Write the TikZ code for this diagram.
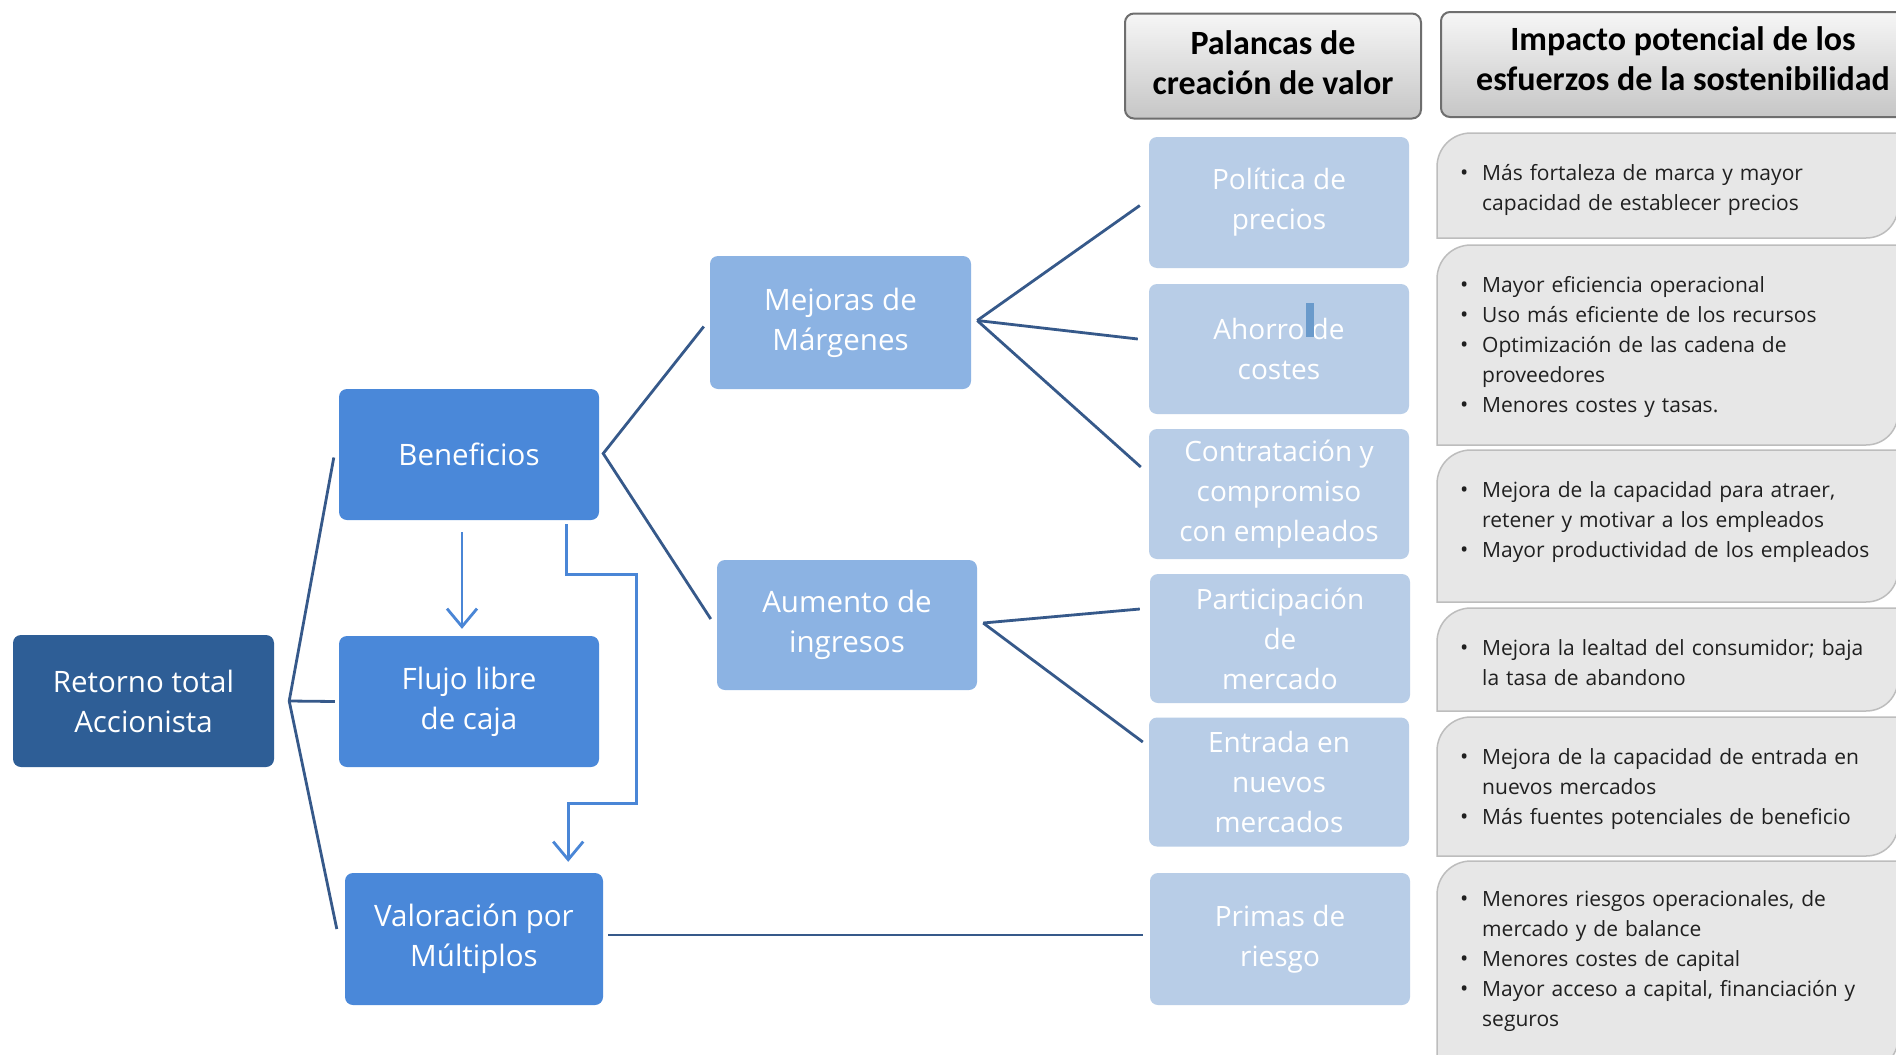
\documentclass[tikz,border=0pt]{standalone}
\usepackage{fontspec}
\setmainfont{Open Sans}
\newfontfamily\hdfont{Carlito}
\usetikzlibrary{arrows.meta,calc}
\definecolor{rootc}{HTML}{2E5E96}
\definecolor{lvlonec}{HTML}{4A88D9}
\definecolor{lvltwoc}{HTML}{8CB3E3}
\definecolor{leverc}{HTML}{B8CDE7}
\definecolor{connc}{HTML}{36598A}
\definecolor{arrowc}{HTML}{4A86D6}
\definecolor{hdrline}{HTML}{6E6E6E}
\definecolor{hdrtop}{HTML}{F6F6F6}
\definecolor{hdrbot}{HTML}{C6C6C6}
\definecolor{impfill}{HTML}{E7E7E7}
\definecolor{impline}{HTML}{BDBDBD}
\definecolor{imptextc}{HTML}{202020}
\definecolor{cursorc}{HTML}{6A9ACB}
\newcommand{\bul}{\makebox[24pt][l]{\hspace{2pt}\fontsize{22}{22}\selectfont\raisebox{0pt}{•}}}
\newcommand{\itm}[1]{\par\noindent\hangindent=24pt\hangafter=1\bul#1\par}
\newcommand{\impbox}[2]{%
  \path[impact] (1437,#2) -- (1437,#1+34)
    .. controls (1437,#1+15) and (1452,#1) .. (1471,#1)
    -- (1898,#1) -- (1898,#2-32)
    .. controls (1898,#2-14) and (1884,#2) .. (1866,#2) -- cycle;}
\tikzset{
  box/.style={rounded corners=8pt, inner sep=0pt, align=center, text=white,
    font=\fontsize{29.5}{40}\selectfont},
  rootbox/.style={box, fill=rootc},
  lvlone/.style={box, fill=lvlonec},
  lvltwo/.style={box, fill=lvltwoc},
  lever/.style={box, fill=leverc, font=\fontsize{28}{40}\selectfont, minimum width=260pt},
  hdr/.style={rounded corners=9pt, draw=hdrline, line width=2pt, top color=hdrtop,
    bottom color=hdrbot, inner sep=0pt},
  hdrtext/.style={align=center, inner sep=0pt,
    font=\hdfont\bfseries\fontsize{34}{40}\selectfont},
  impact/.style={fill=impfill, draw=impline, line width=1.5pt},
  imptext/.style={anchor=north west, inner sep=0pt, text width=520pt, align=left,
    text=imptextc, font=\fontsize{21}{30}\selectfont},
  conn/.style={draw=connc, line width=2.8pt},
  flow/.style={draw=arrowc, line width=2.8pt, -{Straight Barb[length=18pt,width=30pt]}},
}
\begin{document}
\begin{tikzpicture}[x=1pt,y=-1pt]
\clip (0,0) rectangle (1896,1055);
\fill[white] (0,0) rectangle (1896,1055);

% headers
\node[hdr, minimum width=296pt, minimum height=105pt] (h1) at (1273,66) {};
\node[hdrtext] (h1t) at ($(h1)+(0,-3)$) {Palancas de\\creación de valor};
\node[hdr, minimum width=484pt, minimum height=105pt] (h2) at (1683,64.5) {};
\node[hdrtext] (h2t) at ($(h2)+(0,-6)$) {Impacto potencial de los\\esfuerzos de la sostenibilidad};

% impact boxes
\impbox{133}{238}
\impbox{245}{445}
\impbox{450}{602}
\impbox{608}{711}
\impbox{717}{856}
\impbox{861}{1070}

\node[imptext] (t1) at (1458,150) {\itm{Más fortaleza de marca y mayor\newline capacidad de establecer precios}};
\node[imptext] (t2) at (1458,262) {\itm{Mayor eficiencia operacional}\itm{Uso más eficiente de los recursos}\itm{Optimización de las cadena de\newline proveedores}\itm{Menores costes y tasas.}};
\node[imptext] (t3) at (1458,467) {\itm{Mejora de la capacidad para atraer,\newline retener y motivar a los empleados}\itm{Mayor productividad de los empleados}};
\node[imptext] (t4) at (1458,625) {\itm{Mejora la lealtad del consumidor; baja\newline la tasa de abandono}};
\node[imptext] (t5) at (1458,734) {\itm{Mejora de la capacidad de entrada en\newline nuevos mercados}\itm{Más fuentes potenciales de beneficio}};
\node[imptext] (t6) at (1458,876) {\itm{Menores riesgos operacionales, de\newline mercado y de balance}\itm{Menores costes de capital}\itm{Mayor acceso a capital, financiación y\newline seguros}};

% main boxes
\node[rootbox, minimum width=261pt, minimum height=132pt] (root) at (143.5,701) {Retorno total\\Accionista};
\node[lvlone, minimum width=260pt, minimum height=131pt] (ben) at (469,454.5) {Beneficios};
\node[lvlone, minimum width=260pt, minimum height=131pt] (flu) at (469,701.5) {Flujo libre\\de caja};
\node[lvlone, minimum width=258pt, minimum height=132pt] (val) at (474,939) {Valoración por\\Múltiplos};
\node[lvltwo, minimum width=261pt, minimum height=133pt] (mej) at (840.5,322.5) {Mejoras de\\Márgenes};
\node[lvltwo, minimum width=260pt, minimum height=130pt] (aum) at (847,625) {Aumento de\\ingresos};

% levers
\node[lever, minimum height=131pt] (pol) at (1279,202.5) {Política de\\precios};
\node[lever, minimum height=130pt] (aho) at (1279,349) {Ahorro de\\costes};
\node[lever, minimum height=130pt] (con) at (1279,494) {Contratación y\\compromiso\\con empleados};
\node[lever, minimum height=129pt] (par) at (1280,638.5) {Participación\\de\\mercado};
\node[lever, minimum height=129pt] (ent) at (1279,782) {Entrada en\\nuevos\\mercados};
\node[lever, minimum height=132pt] (pri) at (1280,939) {Primas de\\riesgo};
\fill[cursorc] (1306,303) rectangle (1314,337);

% connectors
\coordinate (j0) at ($(root.east)+(15,0)$);
\draw[conn] ($(ben.west)+(-5,3)$) -- (j0) -- ($(val.west)+(-8,-10)$);
\draw[conn] (j0) -- ($(flu.west)+(-4,0)$);

\coordinate (j1) at ($(ben.east)+(4,-1)$);
\draw[conn] ($(mej.west)+(-6,4)$) -- (j1) -- ($(aum.west)+(-6,-6)$);

\coordinate (j2) at ($(mej.east)+(6,-2)$);
\draw[conn] (j2) -- ($(pol.west)+(-9,3)$);
\draw[conn] (j2) -- ($(aho.west)+(-11,-10)$);
\draw[conn] (j2) -- ($(con.west)+(-8,-27)$);

\coordinate (j3) at ($(aum.east)+(6,-2)$);
\draw[conn] (j3) -- ($(par.west)+(-10,-29.5)$);
\draw[conn] (j3) -- ($(ent.west)+(-6,-40)$);

\draw[conn] ($(val.east)+(5,-4)$) -- ($(pri.west)+(-7,-4)$);

% arrows
\draw[flow] ($(ben.south)+(-7,12)$) -- ($(flu.north)+(-7,-7)$);
\coordinate (fa) at ($(ben.south east)+(-33,4)$);
\coordinate (fb) at ($(val.north east)+(33,-69)$);
\coordinate (fc) at ($(val.north east)+(-35,-11)$);
\draw[flow] (fa) -- ++(0,50) -| (fb) -| (fc);
\end{tikzpicture}
\end{document}
